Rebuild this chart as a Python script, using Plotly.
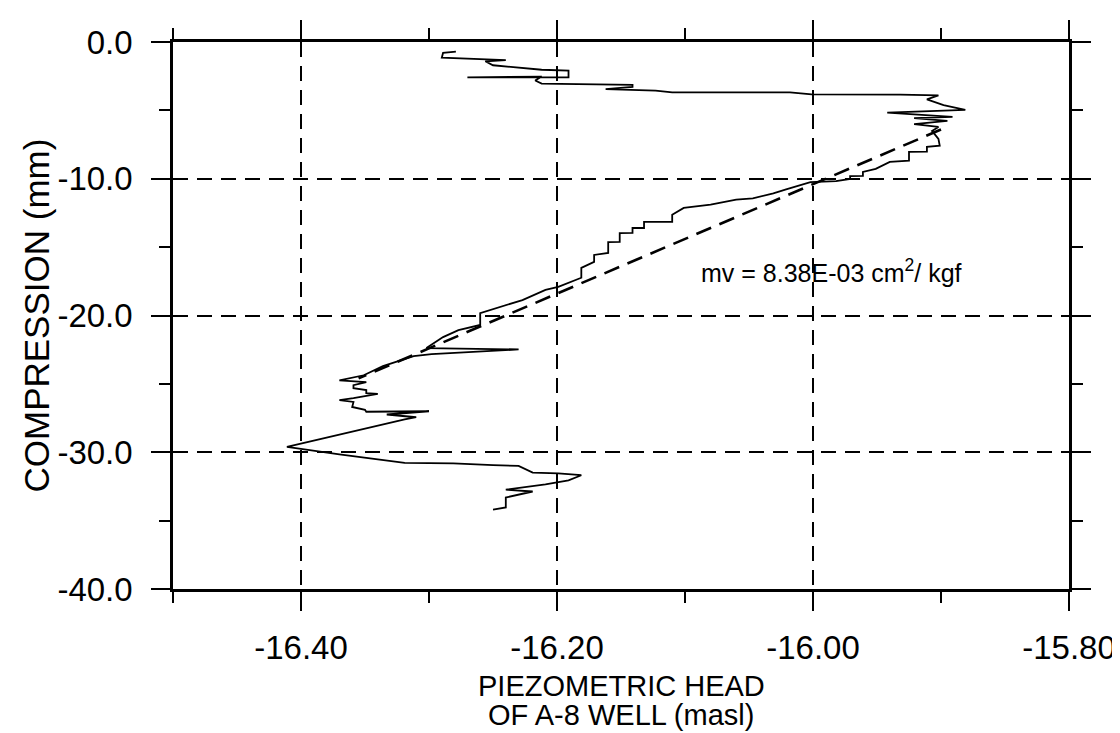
import plotly.graph_objects as go

# Piezometric head of A-8 well (masl) and compression (mm) in path order
head = [-16.279, -16.289, -16.290, -16.240, -16.256, -16.250, -16.212, -16.191, -16.191, -16.270,
        -16.212, -16.217, -16.212, -16.178, -16.141, -16.141, -16.162, -16.123, -16.110, -16.018,
        -16.001, -15.932, -15.902, -15.911, -15.898, -15.881, -15.942, -15.891, -15.921, -15.895,
        -15.921, -15.902, -15.907, -15.902, -15.901, -15.911, -15.911, -15.925, -15.925, -15.940,
        -15.951, -15.961, -15.961, -15.971, -15.971, -15.982, -16.002, -16.021, -16.031, -16.047,
        -16.060, -16.080, -16.101, -16.110, -16.110, -16.132, -16.132, -16.141, -16.141, -16.151,
        -16.151, -16.160, -16.160, -16.171, -16.171, -16.181, -16.181, -16.199, -16.209, -16.227,
        -16.248, -16.260, -16.260, -16.277, -16.289, -16.302, -16.230, -16.298, -16.312, -16.328,
        -16.336, -16.351, -16.359, -16.370, -16.349, -16.359, -16.359, -16.349, -16.349, -16.340,
        -16.359, -16.370, -16.359, -16.360, -16.350, -16.349, -16.300, -16.333, -16.310, -16.319,
        -16.411, -16.370, -16.319, -16.281, -16.250, -16.230, -16.219, -16.199, -16.181, -16.191,
        -16.209, -16.240, -16.219, -16.230, -16.240, -16.240, -16.250]
compression = [-0.71, -0.79, -1.15, -1.33, -1.41, -1.70, -2.03, -2.09, -2.59, -2.58,
               -2.53, -2.82, -3.04, -3.09, -3.13, -3.28, -3.44, -3.55, -3.69, -3.69,
               -3.83, -3.85, -3.90, -4.19, -4.61, -4.97, -5.16, -5.48, -5.57, -5.77,
               -6.01, -6.21, -6.50, -7.08, -7.58, -7.66, -8.02, -8.03, -8.68, -8.77,
               -9.28, -9.50, -9.79, -9.80, -10.01, -10.17, -10.25, -10.77, -11.07, -11.44,
               -11.52, -11.90, -12.13, -12.64, -13.15, -13.16, -13.60, -13.60, -13.96, -13.97,
               -14.62, -14.63, -15.42, -15.57, -16.08, -16.52, -17.24, -17.91, -18.13, -18.87,
               -19.46, -19.83, -20.69, -21.07, -21.58, -22.38, -22.48, -22.82, -22.97, -23.49,
               -23.70, -24.37, -24.52, -24.74, -24.87, -25.10, -25.31, -25.45, -25.67, -25.73,
               -26.04, -26.19, -26.32, -26.69, -26.90, -27.04, -27.00, -27.24, -27.44, -27.60,
               -29.61, -30.16, -30.77, -30.82, -30.94, -31.00, -31.49, -31.55, -31.68, -32.05,
               -32.35, -32.74, -32.87, -33.09, -33.31, -34.04, -34.19]

# Fitted line end points
fit_head = [-15.900, -16.355]
fit_compression = [-6.4, -24.6]

mv_label = "mv = 8.38E-03 cm<sup>2</sup>/ kgf"
mv_pos = (-16.089, -16.74)

x_title_lines = ["PIEZOMETRIC HEAD", "OF A-8 WELL (masl)"]
y_title = "COMPRESSION (mm)"

x_tickvals = [-16.4, -16.2, -16.0, -15.8]
x_ticktext = ["-16.40", "-16.20", "-16.00", "-15.80"]
x_minor = [-16.5, -16.3, -16.1, -15.9]
y_tickvals = [0, -10, -20, -30, -40]
y_ticktext = ["0.0", "-10.0", "-20.0", "-30.0", "-40.0"]
y_minor = [-5, -15, -25, -35]

FONT = "Arial, Liberation Sans, sans-serif"

fig = go.Figure()
fig.add_trace(go.Scatter(x=head, y=compression, mode="lines",
                         line=dict(color="black", width=1.8), showlegend=False))
fig.add_trace(go.Scatter(x=fit_head, y=fit_compression, mode="lines",
                         line=dict(color="black", width=2.6, dash="16px,9px"), showlegend=False))

fig.add_annotation(x=mv_pos[0], y=mv_pos[1], text=mv_label, showarrow=False,
                   xanchor="left", yanchor="middle", font=dict(family=FONT, size=25, color="black"))

for i, line in enumerate(x_title_lines):
    fig.add_annotation(x=0.5, y=0, xref="paper", yref="paper", yshift=-(97 + 29 * i),
                       text=line, showarrow=False,
                       xanchor="center", yanchor="middle", font=dict(family=FONT, size=29, color="black"))
fig.add_annotation(x=0, y=0.5, xref="paper", yref="paper", xshift=-137,
                   text=y_title, textangle=-90, showarrow=False,
                   xanchor="center", yanchor="middle", font=dict(family=FONT, size=35, color="black"))

axis_common = dict(
    showline=True, linecolor="black", linewidth=2.5, mirror="ticks",
    ticks="outside", ticklen=19, tickwidth=2, tickcolor="black",
    showgrid=True, gridcolor="black", gridwidth=1.6, griddash="15px,9px",
    zeroline=False, tickfont=dict(family=FONT, size=33, color="black"),
)

fig.update_xaxes(range=[-16.5, -15.8], tickmode="array", tickvals=x_tickvals, ticktext=x_ticktext,
                 ticklabelstandoff=9,
                 minor=dict(tickmode="array", tickvals=x_minor, ticks="outside", ticklen=11,
                            tickwidth=2, tickcolor="black", showgrid=False),
                 **axis_common)
fig.update_yaxes(range=[-40, 0], tickmode="array", tickvals=y_tickvals, ticktext=y_ticktext,
                 ticklabelstandoff=12,
                 minor=dict(tickmode="array", tickvals=y_minor, ticks="outside", ticklen=11,
                            tickwidth=2, tickcolor="black", showgrid=False),
                 **axis_common)

fig.update_layout(width=1120, height=733, margin=dict(l=165, r=52, t=26, b=152),
                  paper_bgcolor="white", plot_bgcolor="white", font=dict(family=FONT))

fig.write_html("out.html")
